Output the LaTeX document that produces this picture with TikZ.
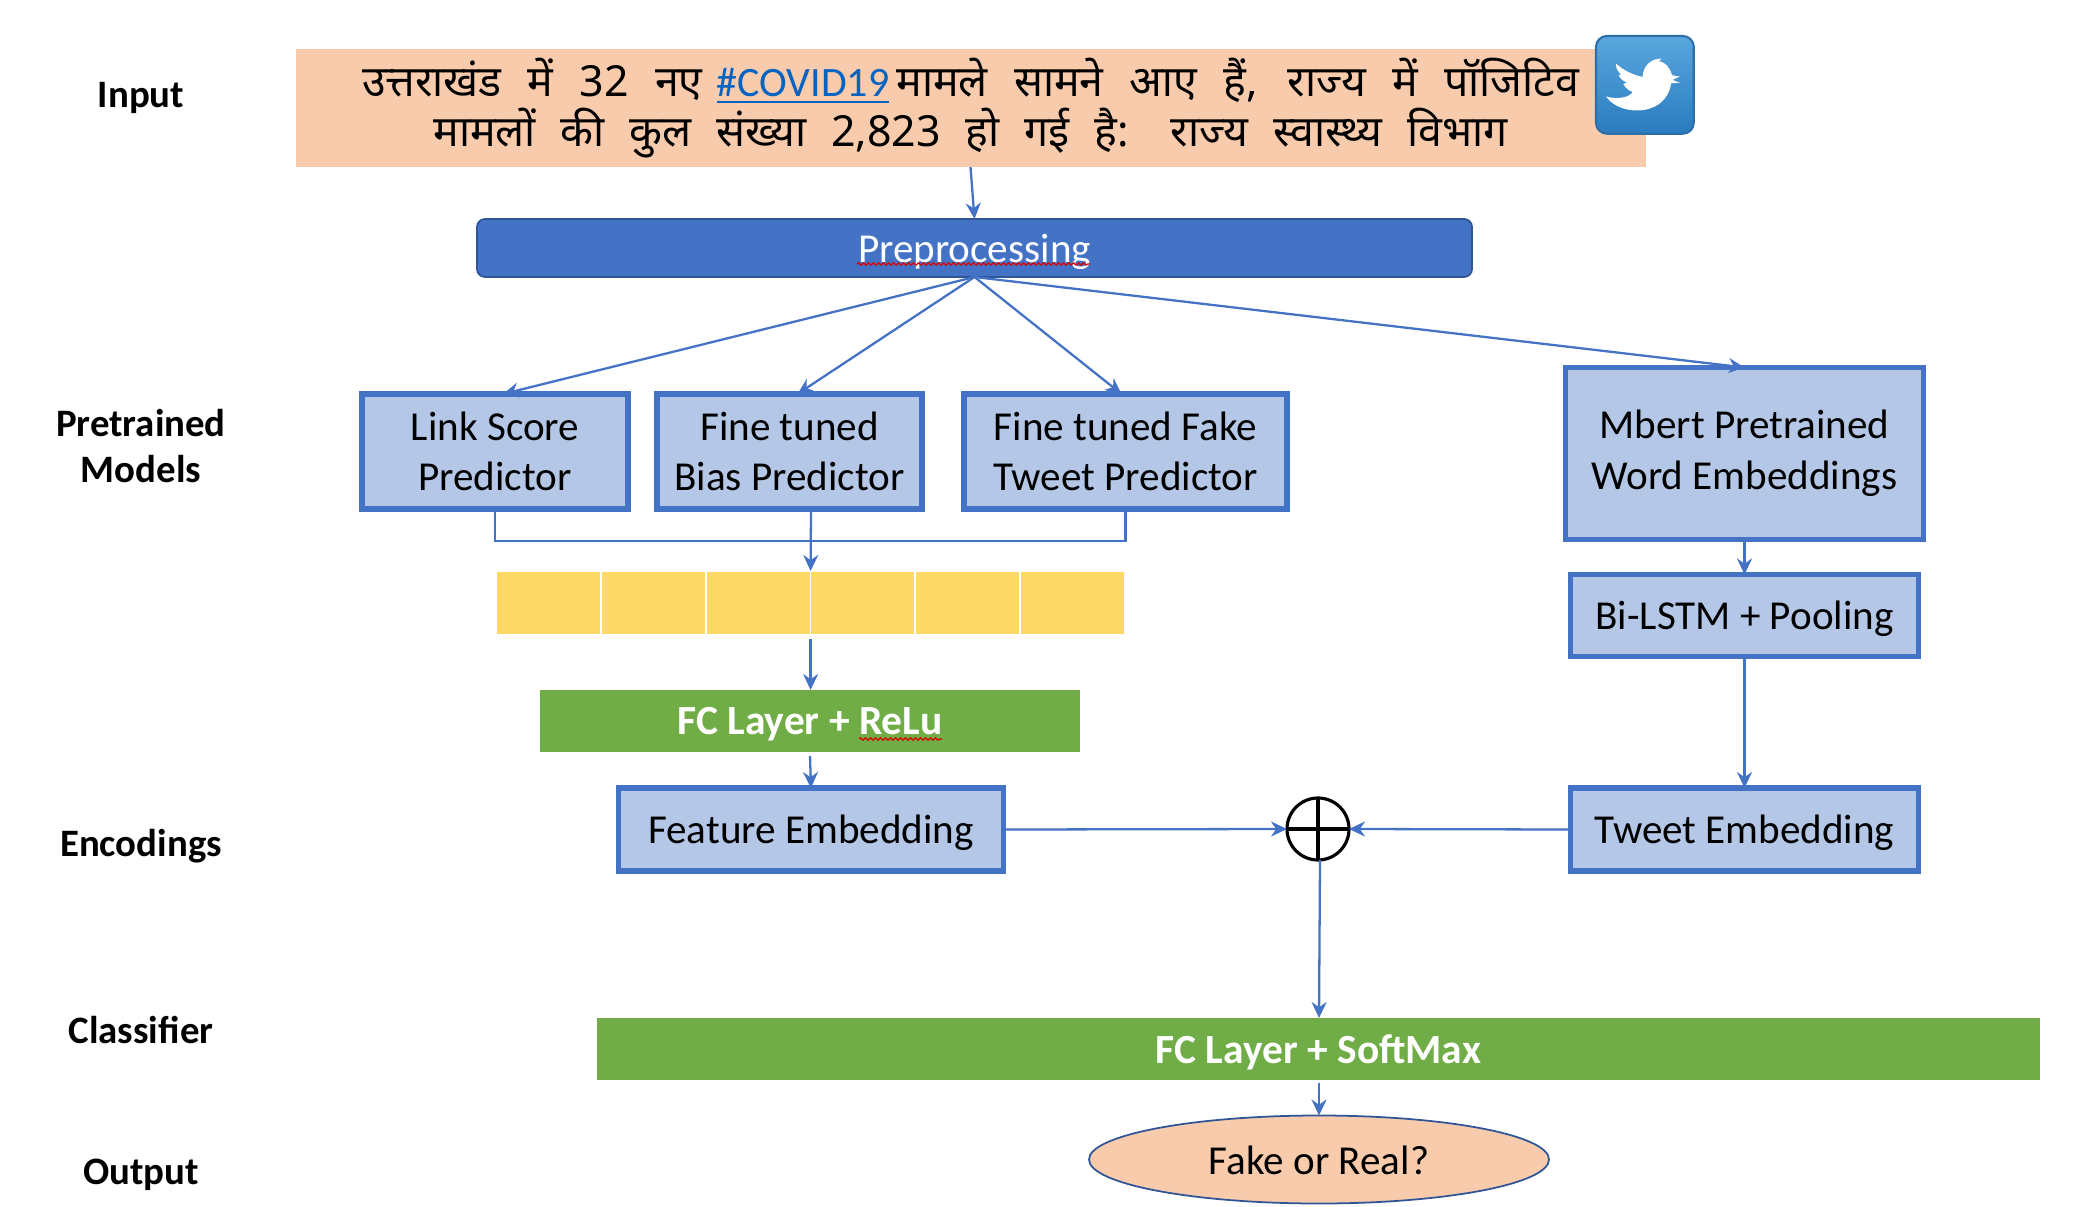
\documentclass[tikz,border=0pt]{standalone}
\usepackage{fontspec}
\setmainfont{Carlito}
\newfontfamily\hindifont[Script=Devanagari]{Noto Sans}
\usepackage{xcolor}
\usetikzlibrary{arrows.meta,shapes.geometric,decorations.pathmorphing}
\definecolor{bluemain}{HTML}{4472C4}
\definecolor{bluebg}{HTML}{B4C7E7}
\definecolor{bluedark}{HTML}{2F5597}
\definecolor{peachbg}{HTML}{F8CBAD}
\definecolor{yellowbg}{HTML}{FFD966}
\definecolor{greenbg}{HTML}{70AD47}
\definecolor{linkblue}{HTML}{0563C1}
\definecolor{icontop}{HTML}{5AA7DE}
\definecolor{iconbottom}{HTML}{2A7BBF}
\definecolor{iconedge}{HTML}{2E6FA8}
\tikzset{
  every node/.append style={font=\fontsize{11.7}{14.4}\selectfont,outer sep=0pt,inner sep=0pt},
  rowlabel/.style={font=\fontsize{11.05}{13}\selectfont\bfseries,align=center},
  modelbox/.style={draw=bluemain,fill=bluebg,line width=1.6pt,align=center},
  oneline/.style={text depth=0pt},
  greenbar/.style={oneline,fill=greenbg,text=white,minimum height=0.62cm,font=\fontsize{11.8}{14}\selectfont\bfseries},
  featcell/.style={fill=yellowbg,draw=white,line width=0.5pt,minimum width=1.047cm,minimum height=0.64cm},
  flow/.style={->,bluemain,line width=0.65pt},
  spellmark/.style={red!85!black,line width=0.35pt,decorate,decoration={snake,amplitude=0.012cm,segment length=0.05cm}}
}

\begin{document}
\begin{tikzpicture}[>={Stealth[length=0.16cm,width=0.15cm]}]
  \useasboundingbox (0,0) rectangle (20.76,12.06);

  % row labels
  \node[rowlabel] (lblinput) at (1.41,11.08) {Input};
  \node[rowlabel] (lblmodels) at (1.41,7.60) {Pretrained\\Models};
  \node[rowlabel] (lblenc) at (1.41,3.60) {Encodings};
  \node[rowlabel] (lblclass) at (1.41,1.76) {Classifier};
  \node[rowlabel] (lblout) at (1.41,0.31) {Output};

  % input tweet
  \node[fill=peachbg,minimum width=13.50cm,minimum height=1.18cm,align=center,
    font=\fontsize{12.2}{14}\hindifont] (tweet) at (9.705,10.98)
    {\makebox[12.17cm][s]{उत्तराखंड में 32 नए \kern-0.12cm{\color{linkblue}\underline{\normalfont\fontsize{11.9}{14}\selectfont\#COVID19}}\,मामले सामने आए हैं, राज्य में पॉजिटिव}\\
     \makebox[10.74cm][s]{मामलों की कुल संख्या 2,823 हो गई है: राज्य स्वास्थ्य विभाग}};

  % twitter icon
  \begin{scope}[shift={(15.80,11.84)},x=0.00333cm,y=-0.00333cm]
    \shade[top color=icontop,bottom color=iconbottom,
      draw=iconedge,line width=0.6pt,rounded corners=0.11cm] (48,42) rectangle (342,336);
    \fill[white] (78,224) .. controls (105,262) and (165,275) .. (210,260)
      .. controls (250,248) and (270,215) .. (274,184)
      -- (300,183) -- (278,174) -- (300,164) -- (277,160)
      .. controls (268,135) and (258,122) .. (238,118) -- (244,110)
      .. controls (215,110) and (190,130) .. (188,165)
      .. controls (160,160) and (130,145) .. (108,125)
      .. controls (108,140) and (114,150) .. (124,158) -- (116,160)
      .. controls (122,172) and (130,178) .. (142,182) -- (130,186)
      .. controls (138,200) and (146,206) .. (158,210)
      .. controls (152,225) and (115,235) .. (78,224) -- cycle;
  \end{scope}

  % preprocessing
  \node[oneline,fill=bluemain,draw=bluedark,line width=0.5pt,rounded corners=0.08cm,text=white,
    minimum width=9.95cm,minimum height=0.58cm] (prep) at (9.745,9.58) {Preprocessing};
  \draw[spellmark] (8.57,9.42) -- (10.90,9.42);

  % pretrained models
  \node[modelbox,minimum width=2.66cm,minimum height=1.15cm] (link) at (4.95,7.545) {Link Score\\Predictor};
  \node[modelbox,minimum width=2.65cm,minimum height=1.15cm] (bias) at (7.895,7.545) {Fine tuned\\Bias Predictor};
  \node[modelbox,minimum width=3.23cm,minimum height=1.15cm] (fake) at (11.255,7.545) {Fine tuned Fake\\Tweet Predictor};
  \node[modelbox,minimum width=3.58cm,minimum height=1.72cm] (mbert) at (17.445,7.525) {Mbert Pretrained\\Word Embeddings};
  \node[modelbox,oneline,minimum width=3.48cm,minimum height=0.82cm] (lstm) at (17.445,5.905) {Bi-LSTM + Pooling};

  % feature vector
  \foreach \i in {1,...,6}
    \node[featcell] (cell\i) at ({4.965+1.047*(\i-0.5)},6.03) {};

  \node[greenbar,minimum width=5.40cm] (relu) at (8.10,4.85) {FC Layer + ReLu};
  \draw[spellmark] (8.59,4.67) -- (9.42,4.67);

  % encodings
  \node[modelbox,oneline,minimum width=3.85cm,minimum height=0.83cm] (feat) at (8.11,3.765) {Feature Embedding};
  \node[modelbox,oneline,minimum width=3.48cm,minimum height=0.83cm] (tweetemb) at (17.445,3.765) {Tweet Embedding};
  \node[draw=black,circle,line width=0.9pt,minimum size=0.62cm] (sum) at (13.18,3.77) {};
  \draw[black,line width=0.9pt] (sum.north) -- (sum.south) (sum.west) -- (sum.east);

  % classifier and output
  \node[greenbar,minimum width=14.43cm] (softmax) at (13.185,1.57) {FC Layer + SoftMax};
  \node[ellipse,draw=bluedark,fill=peachbg,line width=0.5pt,oneline,text height=8.4pt,
    minimum width=4.60cm,minimum height=0.88cm] (result) at (13.19,0.465) {Fake or Real?};

  % connectors
  \coordinate (merge) at (8.11,6.65);
  \draw[flow] (tweet.south) -- (prep.north);
  \draw[flow] (prep.south) -- ([xshift=0.08cm]link.north);
  \draw[flow] (prep.south) -- ([xshift=0.08cm]bias.north);
  \draw[flow] (prep.south) -- ([xshift=-0.04cm]fake.north);
  \draw[flow] (prep.south) -- (mbert.north);
  \draw[bluemain,line width=0.65pt] (link.south) |- (merge) -| (fake.south);
  \draw[flow] (merge |- bias.south) -- (cell4.north west);
  \draw[flow] ([yshift=-0.04cm]cell4.south west) -- (relu.north -| cell4.south west);
  \draw[flow] ([yshift=-0.04cm]relu.south) -- (feat.north);
  \draw[flow] (mbert.south) -- (lstm.north);
  \draw[flow] (lstm.south) -- (tweetemb.north);
  \draw[flow] (feat.east) -- (sum.west);
  \draw[flow] (tweetemb.west) -- (sum.east);
  \draw[flow] ([xshift=0.02cm]sum.south) -- (result.north |- softmax.north);
  \draw[flow] (result.north |- softmax.south) ++(0,-0.03) -- (result.north);
\end{tikzpicture}
\end{document}
